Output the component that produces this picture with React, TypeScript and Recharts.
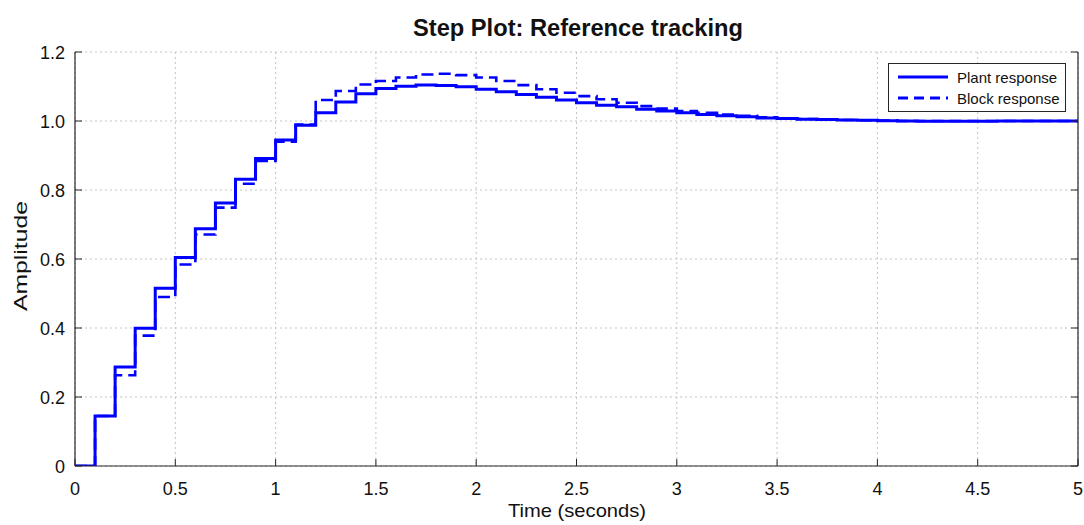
import React from 'react';
import { LineChart, Line, XAxis, YAxis, CartesianGrid } from 'recharts';

const time = [
  0, 0.1, 0.2, 0.3, 0.4, 0.5, 0.6, 0.7, 0.8, 0.9,
  1.0, 1.1, 1.2, 1.3, 1.4, 1.5, 1.6, 1.7, 1.8, 1.9,
  2.0, 2.1, 2.2, 2.3, 2.4, 2.5, 2.6, 2.7, 2.8, 2.9,
  3.0, 3.1, 3.2, 3.3, 3.4, 3.5, 3.6, 3.7, 3.8, 3.9,
  4.0, 4.1, 4.2, 4.3, 4.4, 4.5, 4.6, 4.7, 4.8, 4.9, 5.0,
];

const plantResponse = [
  0, 0.145, 0.287, 0.399, 0.515, 0.604, 0.688, 0.762, 0.831, 0.891,
  0.945, 0.988, 1.024, 1.055, 1.079, 1.094, 1.101, 1.104, 1.103, 1.099,
  1.092, 1.085, 1.077, 1.069, 1.061, 1.053, 1.046, 1.041, 1.034, 1.029,
  1.024, 1.019, 1.015, 1.012, 1.009, 1.007, 1.005, 1.004, 1.003, 1.002,
  1.001, 1.0, 0.999, 0.999, 0.999, 0.999, 1.0, 1.0, 1.0, 1.0, 1.0,
];

const blockResponse = [
  0, 0.145, 0.263, 0.378, 0.49, 0.584, 0.671, 0.749, 0.818, 0.884,
  0.94, 0.99, 1.061, 1.087, 1.106, 1.116, 1.126, 1.135, 1.137, 1.133,
  1.126, 1.116, 1.104, 1.092, 1.082, 1.072, 1.063, 1.053, 1.043, 1.036,
  1.029, 1.024, 1.019, 1.015, 1.011, 1.008, 1.006, 1.004, 1.003, 1.002,
  1.001, 1.0, 1.0, 1.0, 1.0, 1.0, 1.0, 1.0, 1.0, 1.0, 1.0,
];

const xTicks = [0, 0.5, 1, 1.5, 2, 2.5, 3, 3.5, 4, 4.5, 5];
const xTickLabels = ['0', '0.5', '1', '1.5', '2', '2.5', '3', '3.5', '4', '4.5', '5'];
const yTicks = [0, 0.2, 0.4, 0.6, 0.8, 1.0, 1.2];
const yTickLabels = ['0', '0.2', '0.4', '0.6', '0.8', '1.0', '1.2'];

const seriesNames = ['Plant response', 'Block response'];
const title = 'Step Plot: Reference tracking';
const xLabel = 'Time (seconds)';
const yLabel = 'Amplitude';

const data = time.map((t, i) => ({ t, plant: plantResponse[i], block: blockResponse[i] }));

const FONT = "'Liberation Sans', Arial, Helvetica, sans-serif";
const FRAME = '#262626';
const BLUE = '#0000ff';
const TICK_LEN = 7;
const DASH = '12 6';

const BottomTick = (props: any) => {
  const { x, y, payload, index } = props;
  return (
    <g>
      <line x1={x} y1={y} x2={x} y2={y - TICK_LEN} stroke={FRAME} strokeWidth={1} />
      <text x={x} y={y + 29} textAnchor="middle" fontSize={18} fontFamily={FONT} fill="#111">
        {xTickLabels[xTicks.indexOf(payload.value)] ?? xTickLabels[index]}
      </text>
    </g>
  );
};

const TopTick = (props: any) => {
  const { x, y } = props;
  return <line x1={x} y1={y} x2={x} y2={y + TICK_LEN} stroke={FRAME} strokeWidth={1} />;
};

const LeftTick = (props: any) => {
  const { x, y, payload, index } = props;
  return (
    <g>
      <line x1={x} y1={y} x2={x + TICK_LEN} y2={y} stroke={FRAME} strokeWidth={1} />
      <text x={x - 10} y={y + 7} textAnchor="end" fontSize={18} fontFamily={FONT} fill="#111">
        {yTickLabels[yTicks.indexOf(payload.value)] ?? yTickLabels[index]}
      </text>
    </g>
  );
};

const RightTick = (props: any) => {
  const { x, y } = props;
  return <line x1={x} y1={y} x2={x - TICK_LEN} y2={y} stroke={FRAME} strokeWidth={1} />;
};

const LegendBox = () => (
  <div
    style={{
      position: 'absolute',
      left: 888,
      top: 63,
      width: 178,
      height: 49,
      boxSizing: 'border-box',
      border: `1px solid ${FRAME}`,
      background: '#fff',
      fontFamily: FONT,
      fontSize: 15,
      color: '#111',
    }}
  >
    {seriesNames.map((name, i) => (
      <div key={name} style={{ position: 'absolute', left: 8, top: 3 + i * 21, height: 20, display: 'flex', alignItems: 'center' }}>
        <svg width={52} height={10} style={{ marginRight: 8 }}>
          <line
            x1={1}
            y1={5}
            x2={51}
            y2={5}
            stroke={BLUE}
            strokeWidth={3}
            strokeDasharray={i === 1 ? '10 6' : undefined}
          />
        </svg>
        <span>{name}</span>
      </div>
    ))}
  </div>
);

const Title = () => (
  <svg width={1084} height={50} style={{ position: 'absolute', left: 0, top: 0 }}>
    <text
      x={578}
      y={36}
      textAnchor="middle"
      fontSize={23}
      fontWeight="bold"
      fontFamily={FONT}
      fill="#111"
      textLength={330}
      lengthAdjust="spacingAndGlyphs"
    >
      {title}
    </text>
  </svg>
);

export default function App() {
  return (
    <div style={{ position: 'absolute', left: 0, top: 0, width: 1084, height: 525, background: '#fff' }}>
      <LineChart width={1084} height={525} data={data} margin={{ top: 52, right: 0, bottom: 0, left: 0 }}>
        <CartesianGrid stroke="#c4c4c4" strokeDasharray="2 3" />
        <XAxis
          dataKey="t"
          type="number"
          domain={[0, 5]}
          ticks={xTicks}
          height={59}
          tickSize={0}
          tickMargin={0}
          tick={<BottomTick />}
          axisLine={{ stroke: FRAME, strokeWidth: 1.2 }}
          interval={0}
          label={{
            content: (p: any) => {
              const vb = p.viewBox;
              return (
                <text
                  x={577}
                  y={vb.y + 51}
                  textAnchor="middle"
                  fontSize={19}
                  fontFamily={FONT}
                  fill="#111"
                  textLength={138}
                  lengthAdjust="spacingAndGlyphs"
                >
                  {xLabel}
                </text>
              );
            },
          }}
        />
        <XAxis
          xAxisId="top"
          dataKey="t"
          type="number"
          orientation="top"
          domain={[0, 5]}
          ticks={xTicks}
          height={0}
          tickSize={0}
          tickMargin={0}
          tick={<TopTick />}
          axisLine={{ stroke: FRAME, strokeWidth: 1.2 }}
          interval={0}
        />
        <YAxis
          type="number"
          domain={[0, 1.2]}
          ticks={yTicks}
          width={75}
          tickSize={0}
          tickMargin={0}
          tick={<LeftTick />}
          axisLine={{ stroke: FRAME, strokeWidth: 1.2 }}
          interval={0}
          allowDataOverflow
          label={{
            content: () => {
              const cx = 20;
              const cy = 256;
              return (
                <text
                  x={cx}
                  y={cy}
                  transform={`rotate(-90 ${cx} ${cy})`}
                  textAnchor="middle"
                  dominantBaseline="central"
                  fontSize={19}
                  fontFamily={FONT}
                  fill="#111"
                  textLength={110}
                  lengthAdjust="spacingAndGlyphs"
                >
                  {yLabel}
                </text>
              );
            },
          }}
        />
        <YAxis
          yAxisId="right"
          type="number"
          orientation="right"
          domain={[0, 1.2]}
          ticks={yTicks}
          width={6}
          tickSize={0}
          tickMargin={0}
          tick={<RightTick />}
          axisLine={{ stroke: FRAME, strokeWidth: 1.2 }}
          interval={0}
          allowDataOverflow
        />
        <Line
          type="stepAfter"
          dataKey="block"
          name={seriesNames[1]}
          stroke={BLUE}
          strokeWidth={2.6}
          strokeDasharray={DASH}
          dot={false}
          isAnimationActive={false}
        />
        <Line
          type="stepAfter"
          dataKey="plant"
          name={seriesNames[0]}
          stroke={BLUE}
          strokeWidth={3}
          dot={false}
          isAnimationActive={false}
        />
      </LineChart>
      <Title />
      <LegendBox />
    </div>
  );
}
